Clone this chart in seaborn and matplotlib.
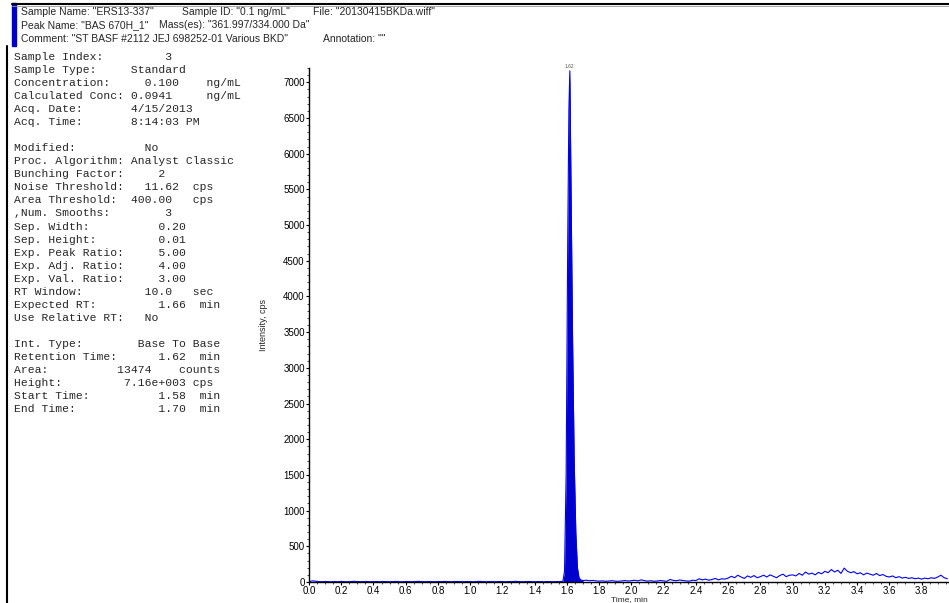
import numpy as np
import pandas as pd
import matplotlib
matplotlib.use('Agg')
import matplotlib.pyplot as plt
from matplotlib.lines import Line2D
from matplotlib.patches import Rectangle
from matplotlib.ticker import MultipleLocator
import seaborn as sns

# ---- header / info panel text ----
header_rows = [
    [('Sample Name: "ERS13-337"', 21), ('Sample ID: "0.1 ng/mL"', 182), ('File: "20130415BKDa.wiff"', 313)],
    [('Peak Name: "BAS 670H_1"', 21), ('Mass(es): "361.997/334.000 Da"', 159)],
    [('Comment: "ST BASF #2112 JEJ 698252-01 Various BKD"', 21), ('Annotation: ""', 323)],
]

info_lines = [
    "Sample Index:         3",
    "Sample Type:     Standard",
    "Concentration:     0.100    ng/mL",
    "Calculated Conc: 0.0941     ng/mL",
    "Acq. Date:       4/15/2013",
    "Acq. Time:       8:14:03 PM",
    "",
    "Modified:          No",
    "Proc. Algorithm: Analyst Classic",
    "Bunching Factor:     2",
    "Noise Threshold:   11.62  cps",
    "Area Threshold:  400.00   cps",
    ",Num. Smooths:        3",
    "Sep. Width:          0.20",
    "Sep. Height:         0.01",
    "Exp. Peak Ratio:     5.00",
    "Exp. Adj. Ratio:     4.00",
    "Exp. Val. Ratio:     3.00",
    "RT Window:         10.0   sec",
    "Expected RT:         1.66  min",
    "Use Relative RT:   No",
    "",
    "Int. Type:        Base To Base",
    "Retention Time:      1.62  min",
    "Area:          13474    counts",
    "Height:         7.16e+003 cps",
    "Start Time:          1.58  min",
    "End Time:            1.70  min",
]

# ---- chromatogram data (time in min, intensity in cps) ----
interval = 0.02
pre_start = 0.0
pre_peak_cps = [5, 16, 12, 6, 4, 7, 5, 3, 6, 4,
                8, 5, 4, 6, 10, 6, 4, 5, 7, 4,
                5, 6, 4, 7, 5, 4, 6, 8, 5, 4,
                6, 5, 4, 7, 9, 5, 4, 6, 5, 4,
                6, 5, 8, 6, 4, 5, 7, 5, 4, 6,
                5, 4, 6, 9, 5, 4, 6, 5, 4, 7,
                5, 4, 6, 5, 10, 6, 4, 5, 7, 5,
                4, 6, 5, 4, 6, 5, 4, 7, 6]

peak_time = [1.575, 1.585, 1.595, 1.605, 1.612, 1.618, 1.625, 1.635, 1.645, 1.655, 1.665, 1.675, 1.685, 1.70]
peak_cps = [10, 150, 1500, 4800, 6600, 7160, 5600, 3400, 1700, 700, 200, 60, 30, 20]

post_start = 1.72
post_peak_cps = [25, 18, 22, 15, 12, 16, 10, 14, 18, 12, 10, 15, 20, 14,
                 18, 25, 15, 30, 20, 12, 18, 10, 14, 20, 15, 10, 35, 22, 18, 28, 20, 15, 12, 25,
                 20, 45, 30, 40, 25, 35, 50, 30, 45, 40,
                 55, 80, 60, 95, 70, 50, 85, 65, 90, 60,
                 75, 95, 70, 100, 80, 60, 90, 110, 75, 95,
                 100, 85, 120, 95, 140, 110, 125, 100, 135, 115,
                 150, 130, 175, 140, 165, 120, 195, 150, 130, 145,
                 115, 130, 100, 125, 110, 95, 120, 90, 105, 80,
                 70, 85, 60, 75, 55, 65, 50, 60, 45, 55,
                 40, 55, 45, 60, 50, 70, 95, 60, 45]

apex_rt = 1.618
apex_label = "1.62"
peak_start, peak_end = 1.575, 1.70

pre_time = pre_start + interval * np.arange(len(pre_peak_cps))
post_time = post_start + interval * np.arange(len(post_peak_cps))
df = pd.DataFrame({
    'time': np.concatenate([pre_time, peak_time, post_time]),
    'cps': np.concatenate([pre_peak_cps, peak_cps, post_peak_cps]),
}).sort_values('time')

# ---- figure ----
sns.set_style('ticks')
plt.rcParams['font.family'] = ['Liberation Sans', 'DejaVu Sans']

W, H = 949, 603
fig = plt.figure(figsize=(W / 100, H / 100), dpi=100)

def fx(px):
    return px / W

def fy(py):
    return 1 - py / H

ax = fig.add_axes([fx(309), fy(582), fx(949 - 309), (582 - 68) / H])

blue = '#0000CC'
sns.lineplot(data=df, x='time', y='cps', ax=ax, color='#0000FF', linewidth=0.8, sort=False, estimator=None)
pk = df[(df.time >= peak_start) & (df.time <= peak_end)]
ax.fill_between(pk.time, 0, pk.cps, color=blue, linewidth=0)
ax.annotate(apex_label, (apex_rt, df.cps.max()), xytext=(0, 1.5), textcoords='offset points',
            ha='center', va='bottom', fontsize=3.5, color='#555555')

ax.xaxis.set_major_locator(MultipleLocator(0.2))
ax.xaxis.set_minor_locator(MultipleLocator(0.05))
ax.yaxis.set_major_locator(MultipleLocator(500))
ax.yaxis.set_minor_locator(MultipleLocator(100))
ax.set_xlim(0, 3.97)
ax.set_ylim(0, 7200)
ax.tick_params(axis='both', which='major', labelsize=7, length=2.5, width=0.8, pad=0.6, colors='black')
ax.tick_params(axis='both', which='minor', length=1.3, width=0.6)
sns.despine(ax=ax)
for s in ['left', 'bottom']:
    ax.spines[s].set_linewidth(1.0)
    ax.spines[s].set_color('black')
ax.set_xlabel('Time, min', fontsize=6, labelpad=0)
ax.set_ylabel('Intensity, cps', fontsize=6.5, labelpad=4)
ax.xaxis.set_label_coords(0.5, -0.0265)
ax.yaxis.set_label_coords(-0.064, 0.5)

# header box decorations
fig.add_artist(Line2D([fx(12), 1], [fy(3.5), fy(3.5)], color='black', linewidth=1.5))
fig.add_artist(Line2D([fx(12), 1], [fy(5.5), fy(5.5)], color='#999999', linewidth=0.6))
fig.add_artist(Rectangle((fx(12), fy(46)), fx(4), (46 - 3) / H, color=blue, transform=fig.transFigure))
fig.add_artist(Line2D([fx(7), fx(7)], [fy(46), 0], color='black', linewidth=1.5))

for i, row in enumerate(header_rows):
    for txt, x0 in row:
        fig.text(fx(x0), fy(12 + 13.5 * i), txt, fontsize=7.5, va='center', ha='left')

for i, line in enumerate(info_lines):
    fig.text(fx(14), fy(57 + 13.04 * i), line, fontsize=8.2, va='center', ha='left',
             family=['Liberation Mono', 'DejaVu Sans Mono'])

fig.savefig('out.png', dpi=100)
